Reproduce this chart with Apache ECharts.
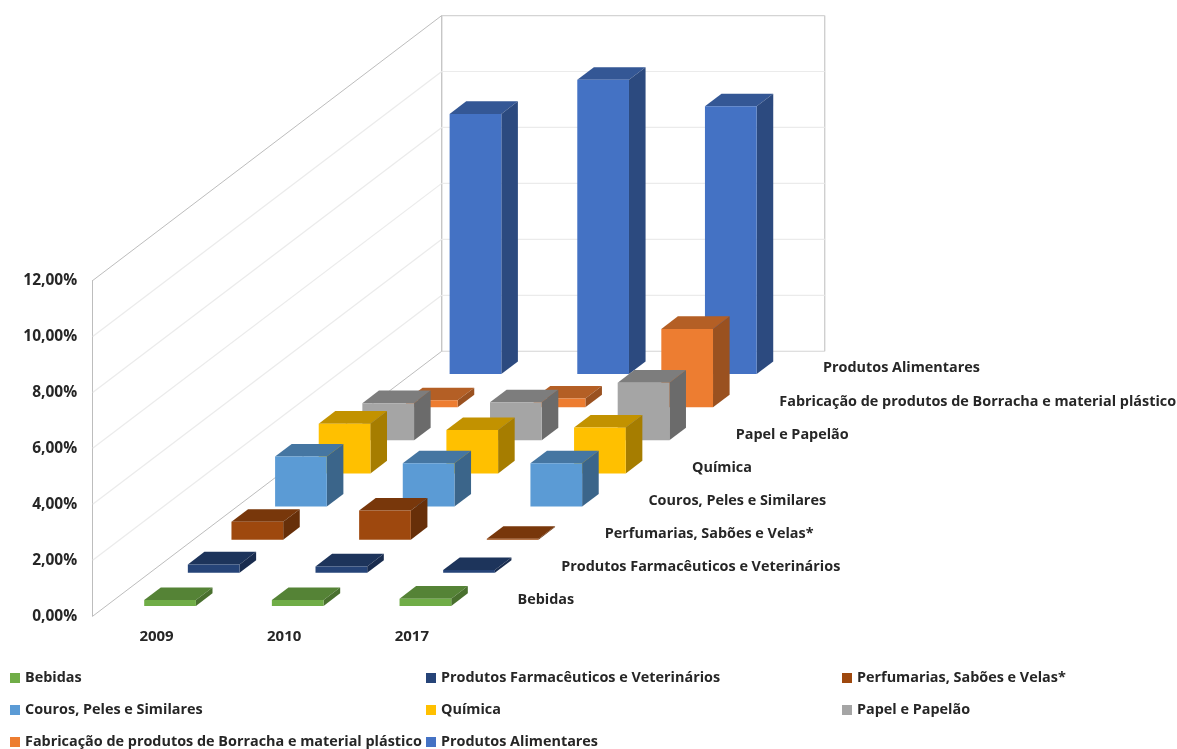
<!DOCTYPE html>
<html>
<head>
<meta charset="utf-8">
<style>html,body{margin:0;padding:0;background:#fff}#chart{width:1177px;height:749px}</style>
<script src="https://cdn.jsdelivr.net/npm/echarts@6/dist/echarts.min.js"></script>
</head>
<body>
<div id="chart"></div>
<script>
// Share of each industry per year, in percent
const years = ['2009', '2010', '2017'];
const yTicks = [0, 2, 4, 6, 8, 10, 12];
const bebidas = [0.21, 0.21, 0.26];
const farmaceuticos = [0.30, 0.23, 0.10];
const perfumarias = [0.64, 1.04, 0.03];
const couros = [1.79, 1.55, 1.55];
const quimica = [1.78, 1.55, 1.64];
const papel = [1.33, 1.36, 2.06];
const borracha = [0.25, 0.31, 2.80];
const alimentares = [9.30, 10.52, 9.57];

const industryNames = [
  'Bebidas',
  'Produtos Farmacêuticos e Veterinários',
  'Perfumarias, Sabões e Velas*',
  'Couros, Peles e Similares',
  'Química',
  'Papel e Papelão',
  'Fabricação de produtos de Borracha e material plástico',
  'Produtos Alimentares'
];
const industryValues = [bebidas, farmaceuticos, perfumarias, couros, quimica, papel, borracha, alimentares];
const industryColors = ['#70ad47', '#264478', '#9e480e', '#5b9bd5', '#ffc000', '#a5a5a5', '#ed7d31', '#4472c4'];

// Oblique projection: each depth row shifts the floor by this many pixels
const DEPTH_X = 43.63;
const DEPTH_Y = 33.12;
const BAR_GAP = 0.31;    // gap in front of a bar, in depth rows
const BAR_DEPTH = 0.38;  // bar thickness, in depth rows
const BAR_WIDTH = 0.405; // bar width, as a fraction of a category band
const FONT = '"Open Sans", "Noto Sans", sans-serif';
const TEXT_COLOR = '#262626';

const toRow = (x, y, row) => [x + row * DEPTH_X, y - row * DEPTH_Y];

// Darken a colour by scaling its channels
function shade(color, factor) {
  const c = echarts.color.parse(color);
  return 'rgb(' + [c[0], c[1], c[2]].map(v => Math.round(v * factor)).join(',') + ')';
}

// A single 3D column: front, top and side faces
function renderBar(row, color) {
  const topColor = shade(color, 0.76);
  const sideColor = shade(color, 0.65);
  return function (params, api) {
    const base = api.coord([api.value(0), 0]);
    const top = api.coord([api.value(0), api.value(1)]);
    const half = api.size([1, 0])[0] * BAR_WIDTH / 2;
    const r0 = row + BAR_GAP, r1 = r0 + BAR_DEPTH;
    const fl = toRow(base[0] - half, top[1], r0), fr = toRow(base[0] + half, top[1], r0);
    const bl = toRow(base[0] - half, top[1], r1), br = toRow(base[0] + half, top[1], r1);
    const lowF = toRow(base[0] + half, base[1], r0), lowB = toRow(base[0] + half, base[1], r1);
    const lowL = toRow(base[0] - half, base[1], r0);
    return {
      type: 'group',
      children: [
        { type: 'polygon', shape: { points: [fl, bl, br, fr] }, style: { fill: topColor } },
        { type: 'polygon', shape: { points: [fr, br, lowB, lowF] }, style: { fill: sideColor } },
        { type: 'polygon', shape: { points: [fl, fr, lowF, lowL] }, style: { fill: color } }
      ]
    };
  };
}

// Left and back walls with their gridlines, one entry per tick value
function renderWall(params, api) {
  const v = api.value(0);
  const a = api.coord([0, v]);
  const band = api.size([1, 0])[0];
  const x0 = a[0] - band / 2;
  const back = toRow(x0, a[1], 8);
  const right = [back[0] + band * 3, back[1]];
  const edge = v === 0 || v === 12;
  const style = { stroke: edge ? '#bdbdbd' : '#ebebeb', lineWidth: edge ? 1 : 1.2, fill: null };
  const children = [
    { type: 'line', shape: { x1: x0, y1: a[1], x2: back[0], y2: back[1] }, style },
    { type: 'line', shape: { x1: back[0], y1: back[1], x2: right[0], y2: right[1] },
      style: { stroke: edge ? '#d4d4d4' : '#ebebeb', lineWidth: 1.2, fill: null } }
  ];
  if (v === 0) {
    const up = api.coord([0, 12]);
    const backTop = toRow(x0, up[1], 8);
    children.push(
      { type: 'line', shape: { x1: backTop[0], y1: backTop[1], x2: back[0], y2: back[1] }, style: { stroke: '#bdbdbd', lineWidth: 1.2, fill: null } },
      { type: 'line', shape: { x1: right[0], y1: backTop[1], x2: right[0], y2: right[1] }, style: { stroke: '#c8c8c8', lineWidth: 1.2, fill: null } }
    );
  }
  return { type: 'group', children };
}

// Labels of the depth axis, running along the right edge of the floor
function renderDepthLabel(params, api) {
  const row = api.value(0);
  const a = api.coord([2, 0]);
  const band = api.size([1, 0])[0];
  const p = toRow(a[0] + band / 2, a[1], row + 0.5);
  return {
    type: 'text',
    style: {
      x: p[0] + 20, y: p[1] + 0.5, text: industryNames[row],
      font: '700 14.4px ' + FONT, fill: TEXT_COLOR,
      textAlign: 'left', textVerticalAlign: 'middle'
    }
  };
}

const barSeries = industryNames.map((name, row) => ({
  type: 'custom',
  name,
  coordinateSystem: 'cartesian2d',
  renderItem: renderBar(row, industryColors[row]),
  encode: { x: 0, y: 1 },
  itemStyle: { color: industryColors[row] },
  data: industryValues[row].map((v, i) => [i, v]),
  silent: true,
  z: 10
})).reverse(); // farthest row is painted first

const legendColumn = (left, names) => ({
  left, top: 671, padding: 0, orient: 'vertical', icon: 'rect',
  itemWidth: 10, itemHeight: 10, itemGap: 18,
  data: names, selectedMode: false,
  textStyle: { fontFamily: FONT, fontWeight: 700, fontSize: 14.4, color: TEXT_COLOR }
});

const chart = echarts.init(document.getElementById('chart'), null, { renderer: 'canvas' });
chart.setOption({
  backgroundColor: '#fff',
  animation: false,
  grid: { left: 92.7, top: 280.5, width: 383, height: 335.7, containLabel: false },
  xAxis: {
    type: 'category', data: years,
    axisLine: { show: false }, axisTick: { show: false }, splitLine: { show: false },
    axisLabel: { margin: 13, fontFamily: FONT, fontWeight: 700, fontSize: 15, color: TEXT_COLOR }
  },
  yAxis: {
    type: 'value', min: 0, max: 12, interval: 2,
    axisLine: { show: true, lineStyle: { color: '#bdbdbd', width: 1 } },
    axisTick: { show: false }, splitLine: { show: false },
    axisLabel: {
      margin: 15.5, fontFamily: FONT, fontWeight: 700, fontSize: 15.5, color: TEXT_COLOR,
      formatter: v => v.toFixed(2).replace('.', ',') + '%'
    }
  },
  legend: [
    legendColumn(10, [industryNames[0], industryNames[3], industryNames[6]]),
    legendColumn(426, [industryNames[1], industryNames[4], industryNames[7]]),
    legendColumn(842, [industryNames[2], industryNames[5]])
  ],
  series: [
    {
      type: 'custom', name: 'walls', coordinateSystem: 'cartesian2d',
      renderItem: renderWall, encode: { y: 0 }, silent: true, z: 1,
      data: yTicks.map(v => [v])
    },
    {
      type: 'custom', name: 'depth labels', coordinateSystem: 'cartesian2d',
      renderItem: renderDepthLabel, encode: { x: 0 }, silent: true, z: 20,
      data: industryNames.map((n, i) => [i])
    }
  ].concat(barSeries)
});
</script>
</body>
</html>
